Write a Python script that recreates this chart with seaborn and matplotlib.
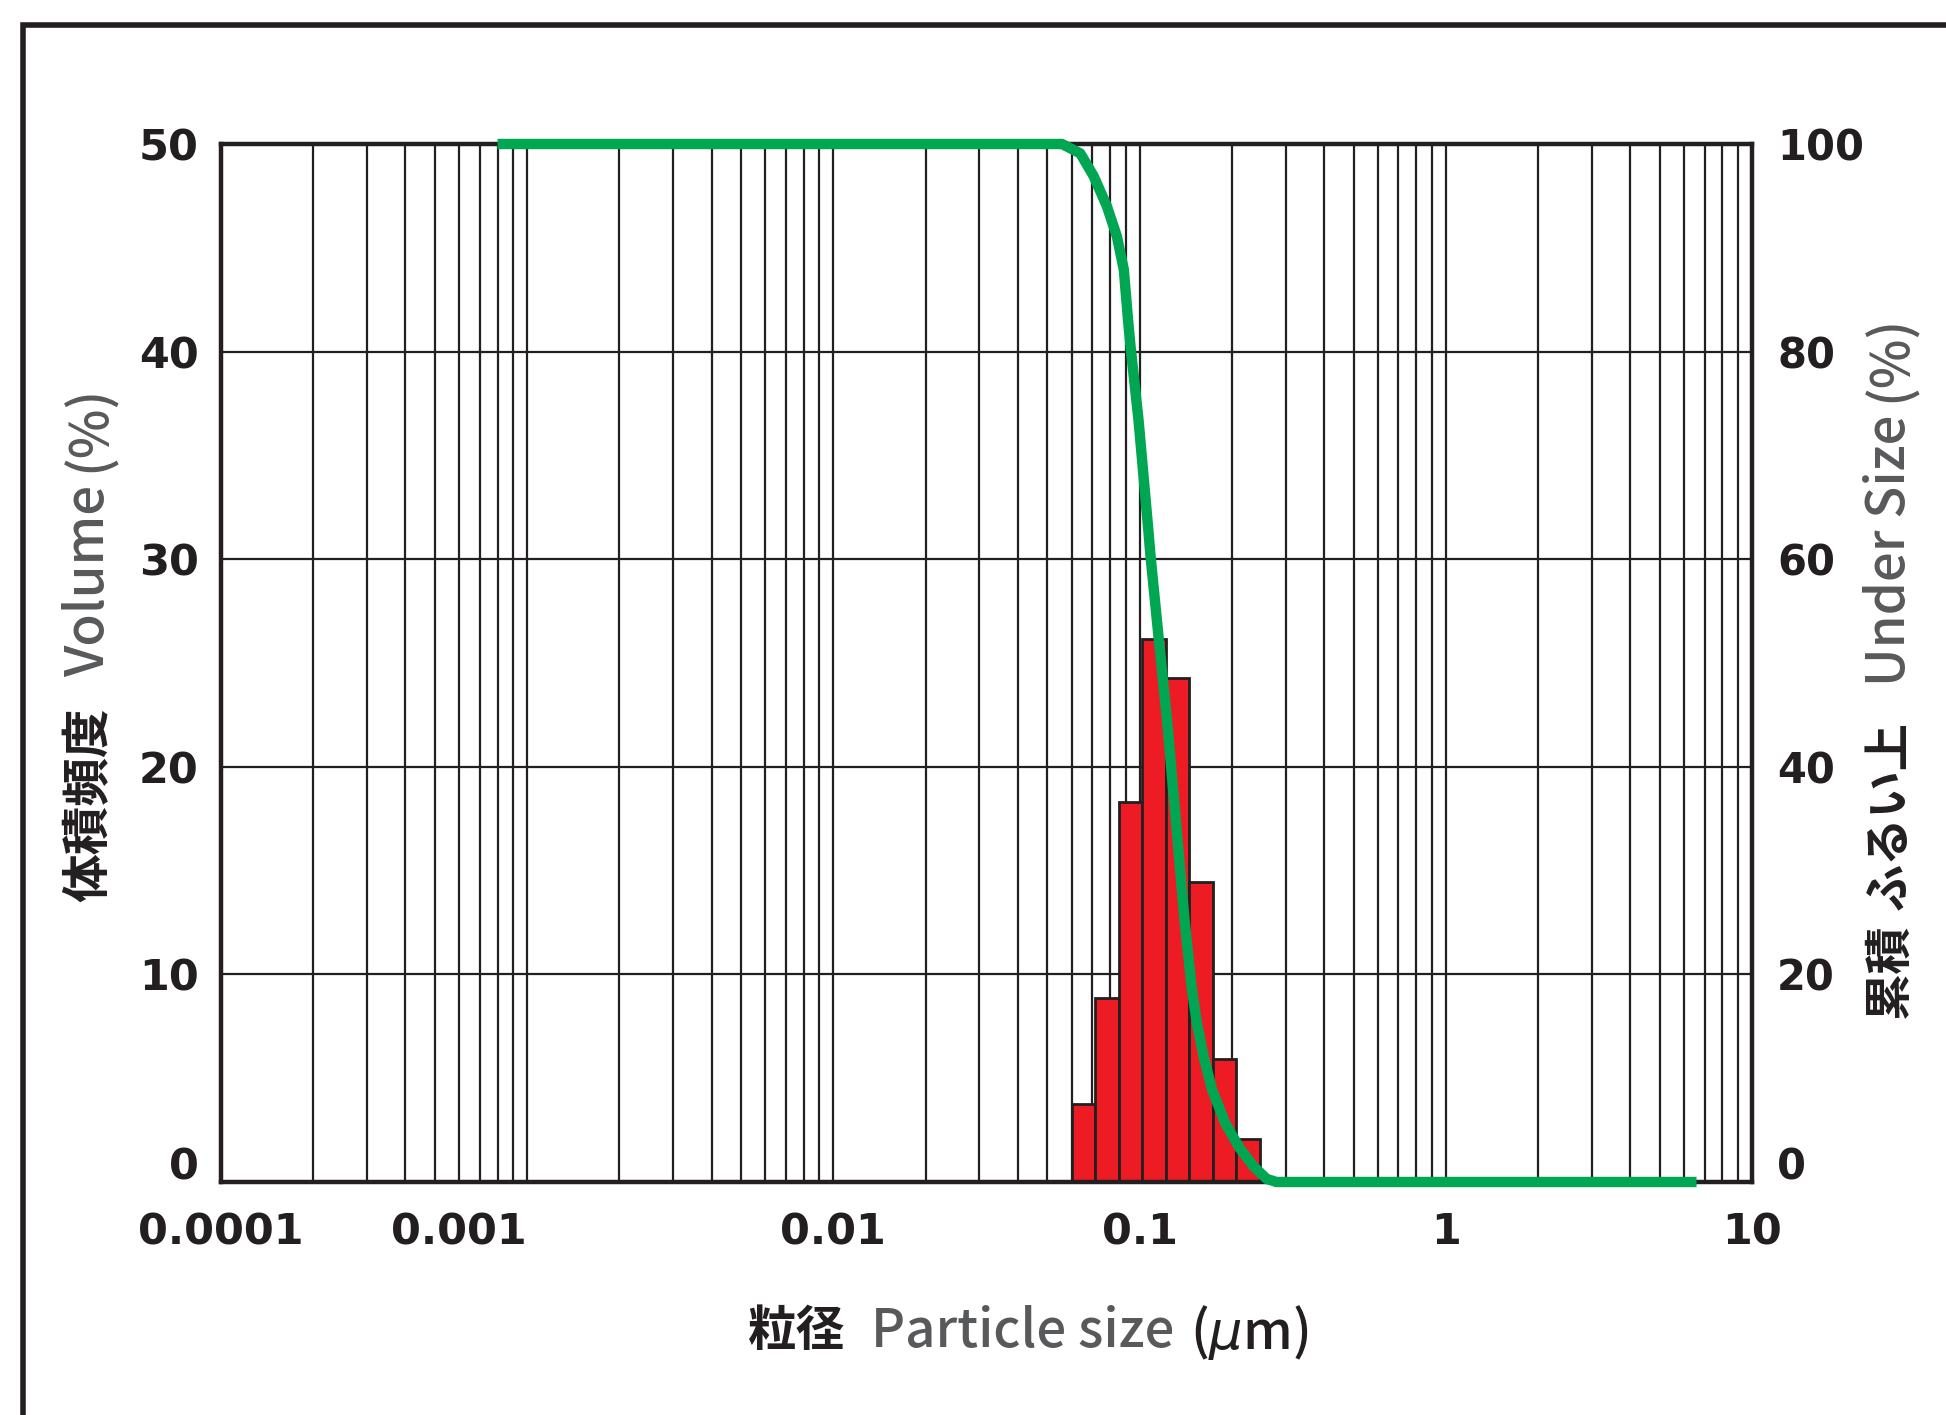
import numpy as np
import pandas as pd
import matplotlib
matplotlib.use("Agg")
import matplotlib.pyplot as plt
import matplotlib.transforms as mtrans
from matplotlib.patches import Rectangle
from matplotlib.ticker import LogLocator, NullFormatter
import seaborn as sns

# histogram: bin edges (um) and volume frequency (%)
bin_edges = [0.0601, 0.0713, 0.0854, 0.1017, 0.1218, 0.1453, 0.1734, 0.2070, 0.2466]
volume = [3.78, 8.88, 18.29, 26.16, 24.29, 14.44, 5.91, 2.07]

# cumulative under size curve
cum_size = [0.0008, 0.0558, 0.0640, 0.0708, 0.0782, 0.0843, 0.0888, 0.0917, 0.0934,
            0.0992, 0.1070, 0.1084, 0.1154, 0.1229, 0.1259, 0.1402, 0.1483, 0.1539,
            0.1618, 0.1724, 0.1906, 0.2107, 0.2357, 0.2600, 0.2800, 6.59]
cum_pct = [100, 100, 99.1, 96.9, 94.0, 91.1, 87.9, 83.0, 80.5,
           73.4, 62.5, 60.5, 52.4, 44.5, 41.0, 25.2, 18.5, 15.3,
           12.1, 8.9, 5.65, 3.4, 1.5, 0.3, 0, 0]

xticks = [0.0001, 0.001, 0.01, 0.1, 1, 10]
xtick_labels = ["0.0001", "0.001", "0.01", "0.1", "1", "10"]
left_ticks = [0, 10, 20, 30, 40, 50]
right_ticks = [0, 20, 40, 60, 80, 100]

BLACK = "#231F20"
GRAY = "#58595B"
RED = "#ED1C24"
GREEN = "#00A651"

sns.set_style("white")
plt.rcParams["font.family"] = ["DejaVu Sans"]

W, H = 1946, 1415
fig = plt.figure(figsize=(W / 100, H / 100), dpi=100)
ax = fig.add_axes([221 / W, 1 - 1182 / H, (1752 - 221) / W, (1182 - 144) / H])

ax.set_xscale("log")
ax.set_xlim(1e-4, 10)
ax.set_ylim(0, 50)

lefts = np.array(bin_edges[:-1])
widths = np.diff(bin_edges)
ax.bar(lefts, volume, width=widths, align="edge", color=RED,
       edgecolor=BLACK, linewidth=2, zorder=2)

ax.set_axisbelow(True)
ax.xaxis.set_minor_locator(LogLocator(base=10, subs=np.arange(2, 10), numticks=50))
ax.xaxis.set_minor_formatter(NullFormatter())
ax.grid(which="both", axis="x", color=BLACK, lw=1.6)
ax.grid(which="major", axis="y", color=BLACK, lw=1.6)

ax.set_xticks(xticks, xtick_labels)
ax.set_yticks(left_ticks, [str(t) for t in left_ticks])
ax.tick_params(axis="x", which="both", length=0, pad=21, labelsize=31, colors=BLACK)
ax.tick_params(axis="y", length=0, pad=16, labelsize=31, colors=BLACK)
for lbl in ax.get_xticklabels() + ax.get_yticklabels():
    lbl.set_fontweight("bold")
for sp in ax.spines.values():
    sp.set_visible(True)
    sp.set_linewidth(3.2)
    sp.set_color(BLACK)

ax2 = ax.twinx()
ax2.set_ylim(0, 100)
sns.lineplot(x=cum_size, y=cum_pct, ax=ax2, color=GREEN, lw=7.5,
             sort=False, estimator=None)
for ln in ax2.get_lines():
    ln.set_clip_on(False)
    ln.set_solid_capstyle("butt")
    ln.set_zorder(5)
ax2.set_yticks(right_ticks, [str(t) for t in right_ticks])
ax2.tick_params(axis="y", length=0, pad=18, labelsize=30, colors=BLACK)
for lbl in ax2.get_yticklabels():
    lbl.set_fontweight("bold")
for sp in ax2.spines.values():
    sp.set_visible(False)
ax2.grid(False)

# small label offsets seen in the original
def shift(lbl, dx, dy):
    lbl.set_transform(lbl.get_transform() +
                      mtrans.ScaledTranslation(dx / 100, dy / 100, fig.dpi_scale_trans))

shift(ax.get_xticklabels()[1], -68, 0)
shift(ax.get_yticklabels()[0], 0, 19)
shift(ax2.get_yticklabels()[0], 0, 19)

# axis titles built from pieces
CJK = ["Noto Sans CJK JP", "DejaVu Sans"]
LAT = dict(family=CJK, size=38, weight="medium")

def ftext(x, y, s, **kw):
    fig.text(x / W, 1 - y / H, s, ha="center", va="center", **kw)

# bottom
ftext(797, 1332, "粒径", family=CJK, weight="bold", size=35, color=BLACK)
ftext(1023, 1332, "Particle size", color=GRAY, **LAT)
ftext(1249, 1332, r"($\mathit{\mu}$m)", color=BLACK, **LAT)

# left
ftext(89, 805, "体積頻度", family=CJK, weight="bold", size=35, color=BLACK, rotation=90)
ftext(89, 581, "Volume", color=GRAY, rotation=90, **LAT)
ftext(89, 428, "(%)", color=GRAY, rotation=90, **LAT)

# right
ftext(1890, 971, "累積", family=CJK, weight="bold", size=34, color=BLACK, rotation=90)
ftext(1890, 815, "ふるい上", family=CJK, weight="bold", size=34, color=BLACK, rotation=90)
ftext(1890, 550, "Under Size", color=GRAY, rotation=90, **LAT)
ftext(1890, 358, "(%)", color=GRAY, rotation=90, **LAT)

# outer frame (runs off the right and bottom edges)
fig.add_artist(Rectangle((23 / W, -0.5), 2, 1 - 25 / H + 0.5, transform=fig.transFigure,
                         fill=False, lw=4, edgecolor=BLACK, clip_on=False))

fig.savefig("out.png", dpi=100)
